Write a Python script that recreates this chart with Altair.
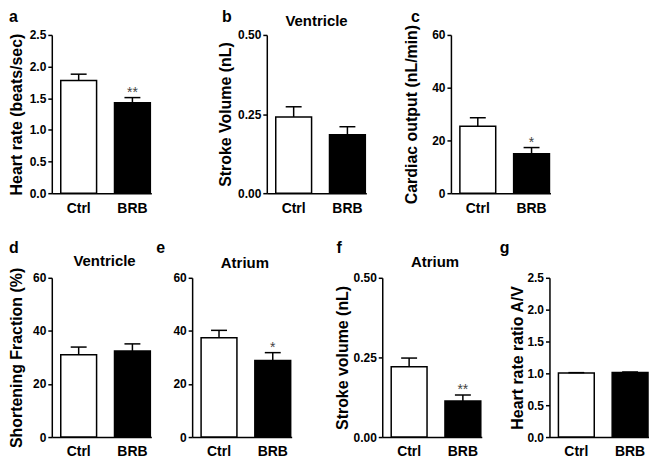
import altair as alt
import pandas as pd

FONT = "Liberation Sans"

groups = ["Ctrl", "BRB"]
bar_colors = ["white", "black"]

# a: heart rate (beats/sec)
hr_mean = [1.78, 1.43]
hr_err = [0.10, 0.08]
hr_sig = ["", "**"]

# b: ventricle stroke volume (nL)
vsv_mean = [0.241, 0.185]
vsv_err = [0.032, 0.025]
vsv_sig = ["", ""]

# c: cardiac output (nL/min)
co_mean = [25.4, 15.0]
co_err = [3.2, 2.3]
co_sig = ["", "*"]

# d: ventricle shortening fraction (%)
vsf_mean = [31.0, 32.4]
vsf_err = [2.9, 2.7]
vsf_sig = ["", ""]

# e: atrium shortening fraction (%)
asf_mean = [37.4, 28.8]
asf_err = [2.8, 3.0]
asf_sig = ["", "*"]

# f: atrium stroke volume (nL)
asv_mean = [0.221, 0.113]
asv_err = [0.027, 0.019]
asv_sig = ["", "**"]

# g: heart rate ratio A/V
ratio_mean = [1.005, 1.015]
ratio_err = [0.006, 0.006]
ratio_sig = ["", ""]

ticks_rate = [0, 0.5, 1.0, 1.5, 2.0, 2.5]
ticks_vol = [0, 0.25, 0.5]
ticks_pct = [0, 20, 40, 60]


def panel(letter, letter_xy, mean, err, sig, domain, ticks, fmt, ytitle,
          extent, tpad, header=None, header_xy=(52, -9), height=158):
    df = pd.DataFrame({
        "group": groups,
        "mean": mean,
        "top": [m + e for m, e in zip(mean, err)],
        "sig": sig,
    })
    xaxis = alt.Axis(title=None, labelAngle=0, ticks=False, tickSize=0,
                     labelPadding=8, labelFontSize=14, labelFontWeight="bold",
                     labelFont=FONT, labelColor="black", domainColor="black",
                     domainWidth=1.5, grid=False)
    xenc = alt.X("group:N", sort=groups,
                 scale=alt.Scale(paddingInner=1 / 3, paddingOuter=0.0926, align=0.9),
                 axis=xaxis)
    yscale = alt.Scale(domain=domain, nice=False, zero=True)
    axis_kw = dict(values=ticks, format=fmt, grid=False, domainColor="black",
                   domainWidth=1.5, tickColor="black", tickWidth=1.5, tickSize=4,
                   labelPadding=2, labelFontSize=12, labelFontWeight="bold",
                   labelColor="black", labelFont=FONT, titleFontSize=16,
                   titleFontWeight="bold", titleColor="black", titleFont=FONT,
                   minExtent=extent, maxExtent=extent, titlePadding=tpad)
    yaxis = alt.Axis(title=ytitle, **axis_kw)

    def Y(field):
        return alt.Y(f"{field}:Q", scale=yscale, axis=yaxis)

    base = alt.Chart(df)
    bars = base.mark_bar(stroke="black", strokeWidth=1.5).encode(
        x=xenc, y=Y("mean"),
        fill=alt.Fill("group:N", scale=alt.Scale(domain=groups, range=bar_colors),
                      legend=None))
    rule = base.mark_rule(color="black", strokeWidth=1.5).encode(
        x=xenc, y=Y("mean"), y2="top:Q")
    cap = base.mark_tick(color="black", thickness=1.5, size=16, opacity=1).encode(
        x=xenc, y=Y("top"))
    stars = base.mark_text(baseline="alphabetic", dy=-1, fontSize=14,
                           color="#444444", font=FONT).encode(
        x=xenc, y=Y("top"), text="sig:N")
    lab = alt.Chart(pd.DataFrame({"t": [letter]})).mark_text(
        align="left", baseline="alphabetic", fontSize=16, fontWeight="bold",
        font=FONT, color="black").encode(
        x=alt.value(letter_xy[0]), y=alt.value(letter_xy[1]), text="t:N")
    layers = [bars, rule, cap, stars, lab]
    if header:
        hd = alt.Chart(pd.DataFrame({"t": [header]})).mark_text(
            align="center", baseline="alphabetic", fontSize=15, fontWeight="bold",
            font=FONT, color="black").encode(
            x=alt.value(header_xy[0]), y=alt.value(header_xy[1]), text="t:N")
        layers.append(hd)
    return alt.layer(*layers).properties(width=100, height=height)


a = panel("a", (-43, -13), hr_mean, hr_err, hr_sig, [0, 2.5], ticks_rate, ".1f",
          "Heart rate (beats/sec)", 23, 4, height=159)
b = panel("b", (-45, -13), vsv_mean, vsv_err, vsv_sig, [0, 0.5], ticks_vol, ".2f",
          "Stroke Volume (nL)", 30, 3, header="Ventricle", header_xy=(50, -9),
          height=159)
c = panel("c", (-40, -13), co_mean, co_err, co_sig, [0, 60], ticks_pct, "d",
          "Cardiac output (nL/min)", 20, 12, height=159)
d = panel("d", (-43, -25), vsf_mean, vsf_err, vsf_sig, [0, 60], ticks_pct, "d",
          "Shortening Fraction (%)", 20, 7, header="Ventricle", header_xy=(53, -12),
          height=160)
e = panel("e", (-36, -25), asf_mean, asf_err, asf_sig, [0, 60], ticks_pct, "d",
          None, 20, 10, header="Atrium", header_xy=(53, -10), height=160)
f = panel("f", (-46, -25), asv_mean, asv_err, asv_sig, [0, 0.5], ticks_vol, ".2f",
          "Stroke volume (nL)", 30, 2, header="Atrium", header_xy=(53, -11),
          height=160)
g = panel("g", (-50, -25), ratio_mean, ratio_err, ratio_sig, [0, 2.5], ticks_rate, ".1f",
          "Heart rate ratio A/V", 23, 1, height=160)

top = alt.hconcat(alt.hconcat(a, b, spacing=66), c, spacing=36)
bottom = alt.hconcat(alt.hconcat(alt.hconcat(d, e, spacing=5), f, spacing=42), g, spacing=18)

chart = alt.vconcat(top, bottom, spacing=25).properties(
    padding={"left": 0, "top": 0, "right": 0, "bottom": 0}
).configure_view(stroke=None)

chart.save("out.html", embed_options={"renderer": "svg", "actions": False})
